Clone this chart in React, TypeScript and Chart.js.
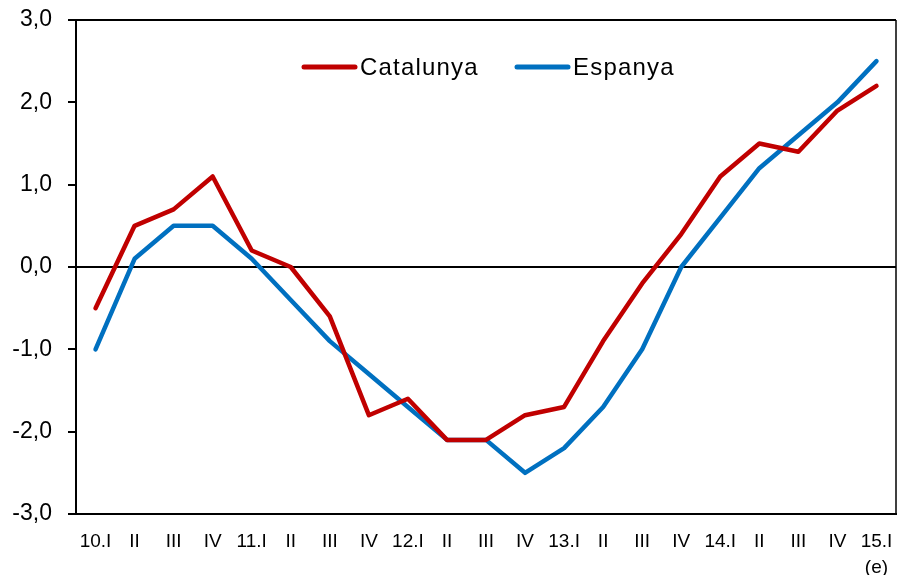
import { useEffect, useRef } from 'react';
import { Chart, registerables } from 'chart.js';

Chart.register(...registerables);

const categories: (string | string[])[] = [
  '10.I', 'II', 'III', 'IV', '11.I', 'II', 'III', 'IV', '12.I', 'II', 'III', 'IV',
  '13.I', 'II', 'III', 'IV', '14.I', 'II', 'III', 'IV', ['15.I', '(e)'],
];
const catalunya = [-0.5, 0.5, 0.7, 1.1, 0.2, 0.0, -0.6, -1.8, -1.6, -2.1, -2.1, -1.8, -1.7, -0.9, -0.2, 0.4, 1.1, 1.5, 1.4, 1.9, 2.2];
const espanya = [-1.0, 0.1, 0.5, 0.5, 0.1, -0.4, -0.9, -1.3, -1.7, -2.1, -2.1, -2.5, -2.2, -1.7, -1.0, 0.0, 0.6, 1.2, 1.6, 2.0, 2.5];
const seriesNames = ['Catalunya', 'Espanya'];
const seriesColors = ['#C00000', '#0070C0'];
const yMin = -3;
const yMax = 3;
const yStep = 1;

const FONT = 'Arial, "Liberation Sans", sans-serif';

const legendPlugin = {
  id: 'customLegend',
  afterDraw(chart: any) {
    const ctx = chart.ctx;
    const items = [
      { x: 302, textX: 360 },
      { x: 515, textX: 573 },
    ];
    const y = 67;
    ctx.save();
    chart.data.datasets.forEach((ds: any, i: number) => {
      const it = items[i];
      ctx.strokeStyle = ds.borderColor;
      ctx.lineWidth = 5;
      ctx.lineCap = 'round';
      ctx.beginPath();
      ctx.moveTo(it.x + 2, y);
      ctx.lineTo(it.x + 53, y);
      ctx.stroke();
      ctx.fillStyle = '#000';
      ctx.font = `24px ${FONT}`;
      (ctx as any).letterSpacing = '1.2px';
      ctx.textBaseline = 'middle';
      ctx.textAlign = 'left';
      ctx.fillText(ds.label, it.textX, y + 1);
    });
    ctx.restore();
  },
};

const framePlugin = {
  id: 'frame',
  beforeDatasetsDraw(chart: any) {
    const { ctx, chartArea } = chart;
    const yScale = chart.scales.y;
    ctx.save();
    ctx.strokeStyle = '#000';
    ctx.lineWidth = 2;
    ctx.beginPath();
    ctx.moveTo(chartArea.left, chartArea.top);
    ctx.lineTo(chartArea.right, chartArea.top);
    ctx.stroke();
    ctx.lineWidth = 1.5;
    ctx.beginPath();
    ctx.moveTo(chartArea.right, chartArea.top);
    ctx.lineTo(chartArea.right, chartArea.bottom);
    ctx.stroke();
    const y0 = yScale.getPixelForValue(0);
    ctx.lineWidth = 2;
    ctx.beginPath();
    ctx.moveTo(chartArea.left, y0);
    ctx.lineTo(chartArea.right, y0);
    ctx.stroke();
    ctx.restore();
  },
  afterDatasetsDraw(chart: any) {
    // y axis (z: 1) is drawn after this hook: widen its tick text a little
    (chart.ctx as any).letterSpacing = '1.5px';
  },
  afterDraw(chart: any) {
    (chart.ctx as any).letterSpacing = '0px';
  },
};

export default function App() {
  const ref = useRef<HTMLCanvasElement>(null);
  useEffect(() => {
    if (!ref.current) return;
    const chart = new Chart(ref.current, {
      type: 'line',
      data: {
        labels: categories,
        datasets: [
          {
            label: seriesNames[0],
            data: catalunya,
            borderColor: seriesColors[0],
            backgroundColor: seriesColors[0],
            borderWidth: 4.5,
            pointRadius: 0,
            borderCapStyle: 'round',
            borderJoinStyle: 'round',
            tension: 0,
          },
          {
            label: seriesNames[1],
            data: espanya,
            borderColor: seriesColors[1],
            backgroundColor: seriesColors[1],
            borderWidth: 4.5,
            pointRadius: 0,
            borderCapStyle: 'round',
            borderJoinStyle: 'round',
            tension: 0,
          },
        ],
      },
      options: {
        animation: false,
        responsive: true,
        maintainAspectRatio: false,
        layout: { padding: { top: 20, right: 2, left: 0, bottom: 0 } },
        plugins: {
          legend: { display: false },
          tooltip: { enabled: false },
        },
        scales: {
          x: {
            offset: true,
            grid: { display: false },
            border: { display: true, color: '#000', width: 2 },
            ticks: {
              color: '#000',
              font: { family: FONT, size: 19, lineHeight: 1.35 },
              padding: 7,
              maxRotation: 0,
              autoSkip: false,
            },
            afterFit(scale: any) {
              scale.height = 61;
              scale.paddingLeft = 0;
              scale.paddingRight = 0;
            },
          },
          y: {
            min: yMin,
            max: yMax,
            z: 1,
            grid: {
              drawOnChartArea: false,
              drawTicks: true,
              tickLength: 8,
              tickColor: '#000',
              lineWidth: 2,
            },
            border: { display: true, color: '#000', width: 2 },
            ticks: {
              stepSize: yStep,
              color: '#000',
              font: { family: FONT, size: 23 },
              padding: 16,
              callback: (v: any) => Number(v).toFixed(1).replace('.', ','),
            },
            afterFit(scale: any) {
              scale.width = 76;
              scale.paddingTop = 0;
              scale.paddingBottom = 0;
            },
          },
        },
      },
      plugins: [framePlugin, legendPlugin],
    } as any);
    return () => chart.destroy();
  }, []);
  return (
    <div style={{ position: 'fixed', left: 0, top: 0, width: 898, height: 575, background: '#fff' }}>
      <canvas ref={ref} />
    </div>
  );
}
